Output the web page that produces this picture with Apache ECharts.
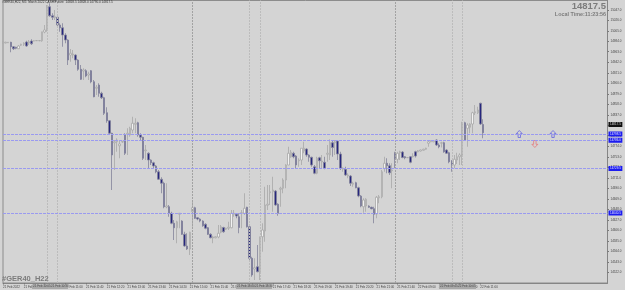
<!DOCTYPE html>
<html>
<head>
<meta charset="utf-8">
<style>html,body{margin:0;padding:0;background:#d4d4d4}#chart{width:625px;height:290px}</style>
<script src="https://cdn.jsdelivr.net/npm/echarts@6/dist/echarts.min.js"></script>
</head>
<body>
<div id="chart"></div>
<script>
// Five-minute bars for the index CFD
const opens = [14981,14980.5,14981,14982,14973,14972,14969,14976,14978,14982.5,14981,14984.5,14984.5,14985,14985,14985,15002.5,15006.5,15053,15035,15031,15032,15016.5,15011,14996.5,14986.5,14956.5,14956.5,14956.5,14946.5,14928,14924.5,14925,14916.5,14925,14903,14890,14896.5,14880,14871,14841,14825,14800,14781,14783,14775,14782.5,14796.5,14798,14796.5,14806.5,14818,14821,14796.5,14792,14765,14760,14746.5,14741,14734.5,14723,14708,14700,14652.5,14653,14640,14620,14611,14638,14624.5,14598,14574.5,14568.5,14643,14651,14631,14628.5,14624.5,14618,14611,14598,14590.5,14591,14592.5,14602,14611.5,14608,14610,14611,14638,14638,14633,14640,14640,14652,14613,14550,14528.5,14533,14523,14593,14604.5,14656,14681,14683,14684.5,14658,14688,14690,14706.5,14736.5,14753,14760,14754.5,14745,14746.5,14764.5,14768.5,14756.5,14752,14733,14720,14751,14742.5,14742,14758,14756.5,14781,14781,14784.5,14758.5,14728,14728,14714.5,14714.5,14698,14701,14691,14674.5,14653,14654.5,14654.5,14652,14649,14638.5,14671,14673,14730,14740,14735,14725,14760,14748,14761,14762.5,14753,14751,14753,14753,14763,14763,14764.5,14766,14768,14780,14783,14783,14786.5,14776.5,14780,14781,14766.5,14761,14744.5,14736.5,14746.5,14753,14756.5,14821,14810,14812,14818.5,14841,14841,14860,14817.5];
const highs = [14983,14983,14982.5,14983,14974.5,14973,14976.5,14979,14982,14985,14986.5,14988,14986,14986,14986,15003,15016.5,15056.5,15060,15040,15046.5,15033,15020,15020,15000,14988,14968.5,14966.5,14958,14948,14936.5,14930,14928,14923,14926.5,14906.5,14896.5,14900,14883,14873,14852,14826.5,14801,14786.5,14790,14786.5,14785,14800,14810,14813,14833,14830,14823,14800,14793,14776.5,14762,14748,14743,14736.5,14726.5,14712,14703,14700,14656.5,14643,14626.5,14625,14640,14626,14603,14600,14603,14666.5,14653,14632,14630,14626,14620,14612.5,14600,14595,14594,14616.5,14616.5,14613,14611,14623,14646.5,14646.5,14640,14640,14646.5,14680,14653,14616.5,14553,14550,14576.5,14593,14620,14693,14696.5,14696.5,14713,14686.5,14660,14693,14710,14738,14773,14766.5,14763,14756.5,14750,14770,14783,14770,14758,14753,14736.5,14753,14753,14756.5,14753,14776.5,14788,14786.5,14786.5,14786.5,14763,14732,14733,14720,14716.5,14703,14703,14693,14676.5,14670,14670,14656,14653,14653,14674.5,14676.5,14726.5,14753,14750,14740,14740,14763,14763,14765,14764.5,14754.5,14752,14754.5,14760,14765,14766.5,14767.5,14769,14771,14785,14786,14786,14788,14780,14783,14783,14768,14763,14746.5,14756.5,14761,14760,14823,14823,14820,14820,14843,14856.5,14853,14861,14828];
const lows = [14980,14980,14980.5,14962,14966.5,14968,14968.5,14974.5,14974.5,14973,14976.5,14976.5,14984,14984.5,14984,14983,15000,15003,15033,15026.5,15026.5,15013,15003,14973,14980,14936.5,14943,14950,14936.5,14925,14906.5,14906.5,14912,14906.5,14900,14872,14876.5,14873,14868.5,14836.5,14821,14796.5,14686.5,14726.5,14763,14750,14781,14756.5,14756.5,14793,14800,14800,14793,14786.5,14746.5,14746.5,14730,14736.5,14730,14720,14706.5,14680,14650,14650,14633,14618,14586.5,14580,14610,14596.5,14573,14566.5,14556.5,14613,14628.5,14626,14622,14613,14608,14596.5,14590,14580,14590,14590,14600,14601,14606.5,14606.5,14610,14633,14630,14600,14610,14636.5,14611.5,14546.5,14513,14506.5,14522,14506.5,14563,14583,14646.5,14656.5,14643,14655,14635,14653,14680,14690,14736.5,14751,14750,14730,14733,14736.5,14760,14753,14743,14733,14718,14718,14730,14730,14728,14743,14746.5,14753,14756.5,14746.5,14726.5,14723,14714.5,14710,14694.5,14693,14690,14672,14652,14641,14643,14650.5,14648,14620,14630,14660,14670,14723,14720,14716.5,14690,14730,14740,14746.5,14750,14748,14750.5,14740,14751.5,14751.5,14762,14763.5,14765,14767,14773,14782,14782,14774.5,14770,14771.5,14761,14758.5,14740,14723,14730,14738.5,14736.5,14736.5,14785,14773,14800,14800,14836.5,14838.5,14816.5,14790];
const closes = [14982.5,14982,14982,14973,14969,14970,14974.5,14978,14980,14974.5,14983,14979,14985,14985.5,14985.5,15003,15006.5,15053,15035,15032,15033,15016.5,15011,14996.5,14986.5,14946.5,14960,14958.5,14946.5,14928,14908,14926.5,14914.5,14918.5,14903,14873,14892,14880,14871,14840,14825,14800,14756.5,14783,14786.5,14778.5,14783.5,14760,14800,14810,14820,14820,14796.5,14792,14750,14766.5,14746.5,14741,14734.5,14723,14708,14700,14653,14654.5,14640,14620,14611,14623,14640,14598,14574.5,14568.5,14602,14651,14630,14628.5,14624.5,14615,14610,14598,14591,14592.5,14593,14600,14613,14603,14610,14612,14640,14640,14634.5,14611.5,14641,14650,14613,14550,14516.5,14531,14523,14593,14606.5,14656.5,14658,14683,14686.5,14656.5,14640,14690,14706.5,14736.5,14760,14762,14753,14736.5,14746.5,14770,14770,14756.5,14752,14736.5,14720,14750,14745,14744.5,14730,14760,14781,14771.5,14783,14758.5,14730,14730,14716.5,14716.5,14700,14700,14691,14674.5,14654.5,14666.5,14668,14652,14649,14638,14672,14673,14723,14740,14735,14721,14726.5,14748,14760,14763,14751.5,14751,14751.5,14742,14754.5,14754.5,14765,14766.5,14768,14770,14783,14785,14785,14776.5,14773,14781,14763,14760,14743,14736.5,14748,14753,14756.5,14821,14786.5,14816.5,14818.5,14841,14843,14846.5,14818.5,14801];

// Time scale tick texts, one every eight bars
const timeLabels = ['21 Feb 2022','21 Feb 09:40','21 Feb 10:20','21 Feb 11:00','21 Feb 11:40','21 Feb 12:20','21 Feb 13:00','21 Feb 13:40','21 Feb 14:20','21 Feb 15:00','21 Feb 15:40','21 Feb 16:20','21 Feb 17:00','21 Feb 17:40','21 Feb 18:20','21 Feb 19:00','21 Feb 19:40','21 Feb 20:20','21 Feb 21:00','21 Feb 21:40','22 Feb 09:00','22 Feb 09:40','22 Feb 10:20','22 Feb 11:00'];
const priceTicks = [14522,14543,14564,14585,14606,14627,14648,14669,14690,14711,14732,14753,14774,14795,14816,14837,14858,14879,14900,14921,14942,14963,14984,15005,15026,15047];

// Horizontal levels, their right-hand tags, and the last price
const levelPrices = [14798.5,14786,14729.5,14640.5];
const lastPrice = 14817.5;

// Vertical markers by bar position, with their time tags on the scale
const strongMarkerBars = [73,151];
const softMarkerBars = [17,21,95,99,173,177];
const markerTags = [['21 Feb 10:05','21 Feb 10:30'],['21 Feb 18:00','21 Feb 18:30'],['22 Feb 09:45','22 Feb 10:05']];

// Trade arrows: bar position and price
const buyArrows = [[199,14798.5],[212,14798.5]];
const sellArrows = [[205,14778.5]];

const slotCount = 234;
const slots = [];
for (let i = 0; i < slotCount; i++) {
  slots.push(i % 8 === 0 && i / 8 < timeLabels.length ? timeLabels[i / 8] : '');
}
const candles = opens.map((o, i) => [o, closes[i], lows[i], highs[i]]);
const arrowPath = 'path://M5,0 L10,5 L7,5 L7,11 L3,11 L3,5 L0,5 Z';
const showLabelled = (i) => slots[i] !== '';

const tag = (text, bg, fg) => ({
  show: true, position: 'end', formatter: text, color: fg, fontSize: 3,
  backgroundColor: bg, padding: [1, 1.5, 1, 1.5], distance: 1
});

// An empty line series only carries one family of reference lines
const refLines = (name, color, dash, data) => ({
  type: 'line', name, data: [], silent: true,
  markLine: {
    silent: true, symbol: 'none', animation: false, precision: 1,
    lineStyle: { color, type: dash, width: 1, opacity: 1 },
    label: { show: false },
    data
  }
});

const chart = echarts.init(document.getElementById('chart'), null, { renderer: 'canvas' });

// Scale tags sit over the time axis beneath each pair of markers
const tagBoxes = [[32, 36], [236, 36], [439, 37]];
const tagGraphics = [];
tagBoxes.forEach((b, k) => {
  tagGraphics.push({ type: 'rect', z: 20, shape: { x: b[0], y: 284.5, width: b[1], height: 4.5 }, style: { fill: '#a9a9a9' } });
  markerTags[k].forEach((t, j) => {
    tagGraphics.push({ type: 'text', z: 21, x: b[0] + 1 + j * 18, y: 285, style: { text: t, fontSize: 3, fill: '#4a4a4a', fontFamily: 'Liberation Sans' } });
  });
});

chart.setOption({
  animation: false,
  backgroundColor: '#d4d4d4',
  textStyle: { fontFamily: 'Liberation Sans' },
  title: [
    { text: '#GER40,H22, M5  March 2022 CASH/Future  14818.5 14828.0 14790.0 14817.5', left: 2, top: 0.5, padding: 0,
      textStyle: { fontSize: 3.1, fontWeight: 'normal', color: '#333' } },
    { text: lastPrice.toFixed(1), right: 19, top: 1, padding: 0,
      textStyle: { fontSize: 9.5, fontWeight: 'bold', color: '#7c7c7c' } },
    { text: 'Local Time:11:23:56', right: 19, top: 12.5, padding: 0,
      textStyle: { fontSize: 5.4, fontWeight: 'bold', color: '#7c7c7c' } },
    { text: '#GER40_H22', left: 2, top: 275, padding: 0,
      textStyle: { fontSize: 7.5, fontWeight: 'bold', color: '#7c7c7c' } }
  ],
  grid: { left: 1, right: 17.5, top: 0.5, bottom: 7, show: true, borderColor: '#8c8c8c', borderWidth: 1, backgroundColor: 'transparent' },
  xAxis: {
    type: 'category', data: slots, boundaryGap: false,
    axisLine: { lineStyle: { color: '#858585' } },
    axisTick: { length: 1.5, interval: showLabelled, lineStyle: { color: '#777' } },
    axisLabel: { interval: showLabelled, fontSize: 3, color: '#444', align: 'left', margin: 2.5 },
    splitLine: { show: false }
  },
  yAxis: {
    type: 'value', position: 'right', scale: true, min: 14500.5, max: 15065.5,
    axisLine: { show: true, lineStyle: { color: '#858585' } },
    axisTick: { show: true, length: 1.5, customValues: priceTicks, lineStyle: { color: '#777' } },
    axisLabel: { fontSize: 3, color: '#444', margin: 3, customValues: priceTicks, formatter: (v) => v.toFixed(1) },
    splitLine: { show: false }
  },
  graphic: tagGraphics,
  series: [
    refLines('Strong markers', '#a2a2a2', [2, 1], strongMarkerBars.map((b) => ({ xAxis: b }))),
    refLines('Soft markers', '#bcbcbc', [2, 1], softMarkerBars.map((b) => ({ xAxis: b }))),
    {
      type: 'candlestick', name: '#GER40', data: candles, barWidth: 2, clip: true,
      itemStyle: { color: '#f2f2f2', color0: '#26267e', borderColor: '#a8a8a8', borderColor0: '#84849a', borderWidth: 0.8 }
    },
    refLines('Levels', '#9a9af0', [3, 1], levelPrices.map((v) => ({ yAxis: v, label: tag(v.toFixed(1), '#1c1cf0', '#e8e8ff') }))),
    refLines('Last price', 'rgba(0,0,0,0)', 'solid', [{ yAxis: lastPrice, label: tag(lastPrice.toFixed(1), '#111', '#ddd') }]),
    { type: 'scatter', name: 'Buy', data: buyArrows, symbol: arrowPath, symbolSize: [6, 7],
      itemStyle: { color: 'transparent', borderColor: '#5a5ae0', borderWidth: 0.9 } },
    { type: 'scatter', name: 'Sell', data: sellArrows, symbol: arrowPath, symbolRotate: 180, symbolSize: [6, 7],
      itemStyle: { color: 'transparent', borderColor: '#e87070', borderWidth: 0.9 } }
  ]
});
</script>
</body>
</html>
